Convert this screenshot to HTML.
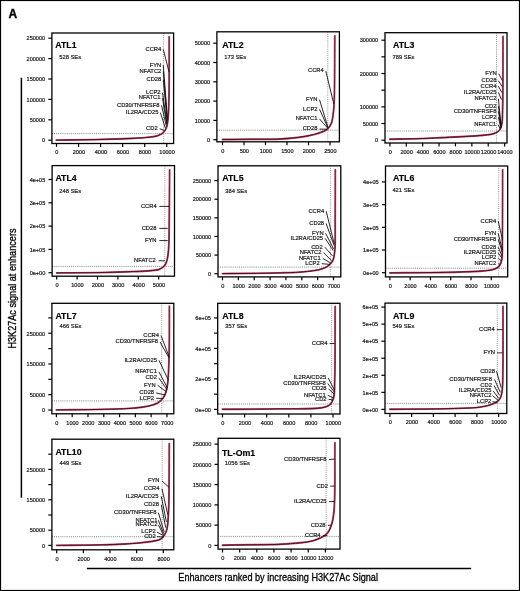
<!DOCTYPE html>
<html><head><meta charset="utf-8"><style>
html,body{margin:0;padding:0;background:#fff;}
body{width:520px;height:591px;overflow:hidden;}
svg{display:block;will-change:transform;}
text{font-family:"Liberation Sans",sans-serif;}
.tl{font-size:5.55px;fill:#181818;stroke:#181818;stroke-width:0.2;}
.gl{font-size:5.8px;fill:#181818;stroke:#181818;stroke-width:0.2;}
.se{font-size:5.8px;fill:#181818;stroke:#181818;stroke-width:0.18;}
.ti{font-size:8.8px;font-weight:bold;fill:#000;stroke:#000;stroke-width:0.15;}
.box{fill:none;stroke:#000;stroke-width:1.3;}
.tk{stroke:#000;stroke-width:1.2;}
.ld{stroke:#111;stroke-width:0.9;}
.vd{stroke:#85767c;stroke-width:0.8;stroke-dasharray:1 1.1;}
.vd2{stroke:#708a80;stroke-width:0.8;stroke-dasharray:1 1.1;}
.hd{stroke:#606868;stroke-width:0.8;stroke-dasharray:1 1.1;}
.c1{fill:none;stroke:#b84462;stroke-width:1.9;stroke-linejoin:round;stroke-linecap:round;}
.c2{fill:none;stroke-width:1.0;stroke-linejoin:round;stroke-linecap:round;}
</style></head><body>
<svg width="520" height="591" viewBox="0 0 520 591">
<rect x="0.5" y="0.5" width="519" height="590" fill="none" stroke="#000" stroke-width="1.2"/>
<text x="8.6" y="18.1" style="font-size:12.0px;font-weight:bold;stroke:#000;stroke-width:0.35">A</text>
<line x1="21.4" y1="77.7" x2="21.4" y2="497.7" stroke="#000" stroke-width="1.5"/>
<line x1="86.9" y1="568.5" x2="471.2" y2="568.5" stroke="#000" stroke-width="1.4"/>
<text transform="translate(15.6,348.6) rotate(-90) scale(0.845,1)" style="font-size:10.8px;stroke:#000;stroke-width:0.3" text-anchor="start">H3K27Ac signal at enhancers</text>
<text transform="translate(178.3,580.8) scale(0.88,1)" style="font-size:10.4px;stroke:#000;stroke-width:0.3">Enhancers ranked by increasing H3K27Ac Signal</text>
<line x1="163.4" y1="33.0" x2="163.4" y2="133.6" class="vd"/>
<line x1="163.4" y1="133.6" x2="163.4" y2="143.5" class="vd2"/>
<line x1="51.9" y1="133.6" x2="173.6" y2="133.6" class="hd"/>
<linearGradient id="gATL1" gradientUnits="userSpaceOnUse" x1="0" y1="36.8" x2="0" y2="133.6"><stop offset="0" stop-color="#802242"/><stop offset="0.7" stop-color="#641a38"/><stop offset="1" stop-color="#4a0c24"/></linearGradient>
<path d="M56.30,140.10 C69.20,139.93 82.43,139.88 95.00,139.60 C106.96,139.33 119.96,139.01 130.00,138.50 C137.60,138.11 144.87,137.73 150.00,137.10 C153.25,136.70 155.59,136.55 157.90,135.70 C159.92,134.96 161.76,133.97 163.20,132.60 C164.63,131.24 165.70,129.57 166.50,127.50 C167.51,124.89 167.70,121.80 168.10,117.90 C168.71,111.92 168.80,104.38 169.00,95.00 C169.32,80.05 169.13,56.20 169.20,36.80" class="c1"/>
<path d="M56.30,140.10 C69.20,139.93 82.43,139.88 95.00,139.60 C106.96,139.33 119.96,139.01 130.00,138.50 C137.60,138.11 144.87,137.73 150.00,137.10 C153.25,136.70 155.59,136.55 157.90,135.70 C159.92,134.96 161.76,133.97 163.20,132.60 C164.63,131.24 165.70,129.57 166.50,127.50 C167.51,124.89 167.70,121.80 168.10,117.90 C168.71,111.92 168.80,104.38 169.00,95.00 C169.32,80.05 169.13,56.20 169.20,36.80" class="c2" stroke="url(#gATL1)"/>
<rect x="51.9" y="33.0" width="121.70" height="110.50" class="box"/>
<line x1="48.30" y1="140.2" x2="51.9" y2="140.2" class="tk"/>
<text x="45.10" y="142.45" class="tl" text-anchor="end">0</text>
<line x1="48.30" y1="119.8" x2="51.9" y2="119.8" class="tk"/>
<text x="45.10" y="122.05" class="tl" text-anchor="end">50000</text>
<line x1="48.30" y1="99.4" x2="51.9" y2="99.4" class="tk"/>
<text x="45.10" y="101.65" class="tl" text-anchor="end">100000</text>
<line x1="48.30" y1="79.0" x2="51.9" y2="79.0" class="tk"/>
<text x="45.10" y="81.25" class="tl" text-anchor="end">150000</text>
<line x1="48.30" y1="58.6" x2="51.9" y2="58.6" class="tk"/>
<text x="45.10" y="60.85" class="tl" text-anchor="end">200000</text>
<line x1="48.30" y1="38.2" x2="51.9" y2="38.2" class="tk"/>
<text x="45.10" y="40.45" class="tl" text-anchor="end">250000</text>
<line x1="56.5" y1="143.5" x2="56.5" y2="146.90" class="tk"/>
<text x="56.80" y="154.20" class="tl" text-anchor="middle">0</text>
<line x1="78.55" y1="143.5" x2="78.55" y2="146.90" class="tk"/>
<text x="78.85" y="154.20" class="tl" text-anchor="middle">2000</text>
<line x1="100.6" y1="143.5" x2="100.6" y2="146.90" class="tk"/>
<text x="100.90" y="154.20" class="tl" text-anchor="middle">4000</text>
<line x1="122.65" y1="143.5" x2="122.65" y2="146.90" class="tk"/>
<text x="122.95" y="154.20" class="tl" text-anchor="middle">6000</text>
<line x1="144.7" y1="143.5" x2="144.7" y2="146.90" class="tk"/>
<text x="145.00" y="154.20" class="tl" text-anchor="middle">8000</text>
<line x1="166.75" y1="143.5" x2="166.75" y2="146.90" class="tk"/>
<text x="167.05" y="154.20" class="tl" text-anchor="middle">10000</text>
<text x="55.3" y="47.5" class="ti">ATL1</text>
<text x="59.2" y="58.7" class="se">528 SEs</text>
<text x="161.3" y="50.6" class="gl" text-anchor="end">CCR4</text>
<line x1="163.30" y1="49.30" x2="169" y2="72" class="ld"/>
<text x="161.3" y="66.5" class="gl" text-anchor="end">FYN</text>
<line x1="163.30" y1="65.20" x2="167.4" y2="118" class="ld"/>
<text x="161.3" y="72.75" class="gl" text-anchor="end">NFATC2</text>
<line x1="163.30" y1="71.45" x2="167.3" y2="119.5" class="ld"/>
<text x="161.3" y="81.25" class="gl" text-anchor="end">CD28</text>
<line x1="163.30" y1="79.95" x2="167.2" y2="121" class="ld"/>
<text x="160.5" y="94" class="gl" text-anchor="end">LCP2</text>
<line x1="162.50" y1="92.70" x2="166.9" y2="123" class="ld"/>
<text x="160.5" y="99.4" class="gl" text-anchor="end">NFATC1</text>
<line x1="162.50" y1="98.10" x2="166.6" y2="124.2" class="ld"/>
<text x="159.5" y="106.6" class="gl" text-anchor="end">CD30/TNFRSF8</text>
<line x1="161.50" y1="105.30" x2="166.2" y2="125.6" class="ld"/>
<text x="158.4" y="113.9" class="gl" text-anchor="end">IL2RA/CD25</text>
<line x1="160.40" y1="112.60" x2="165.3" y2="128" class="ld"/>
<text x="157.7" y="130" class="gl" text-anchor="end">CD2</text>
<line x1="159.70" y1="128.70" x2="164.5" y2="130.6" class="ld"/>
<line x1="327.8" y1="31.8" x2="327.8" y2="130.2" class="vd"/>
<line x1="327.8" y1="130.2" x2="327.8" y2="141.8" class="vd2"/>
<line x1="216.9" y1="130.2" x2="339.4" y2="130.2" class="hd"/>
<linearGradient id="gATL2" gradientUnits="userSpaceOnUse" x1="0" y1="36" x2="0" y2="130.2"><stop offset="0" stop-color="#802242"/><stop offset="0.7" stop-color="#641a38"/><stop offset="1" stop-color="#4a0c24"/></linearGradient>
<path d="M222.50,139.50 C231.67,139.43 240.63,139.38 250.00,139.30 C259.78,139.22 270.67,139.51 280.00,139.00 C288.19,138.55 296.18,137.81 303.00,136.70 C308.56,135.79 313.65,134.74 318.00,133.30 C321.53,132.13 325.02,131.09 327.30,129.20 C329.20,127.63 330.32,125.74 331.30,123.40 C332.50,120.54 332.82,116.57 333.30,113.00 C333.80,109.28 333.96,106.91 334.20,101.50 C334.76,88.61 334.60,57.83 334.80,36.00" class="c1"/>
<path d="M222.50,139.50 C231.67,139.43 240.63,139.38 250.00,139.30 C259.78,139.22 270.67,139.51 280.00,139.00 C288.19,138.55 296.18,137.81 303.00,136.70 C308.56,135.79 313.65,134.74 318.00,133.30 C321.53,132.13 325.02,131.09 327.30,129.20 C329.20,127.63 330.32,125.74 331.30,123.40 C332.50,120.54 332.82,116.57 333.30,113.00 C333.80,109.28 333.96,106.91 334.20,101.50 C334.76,88.61 334.60,57.83 334.80,36.00" class="c2" stroke="url(#gATL2)"/>
<rect x="216.9" y="31.8" width="122.50" height="110.00" class="box"/>
<line x1="213.30" y1="139.7" x2="216.9" y2="139.7" class="tk"/>
<text x="210.10" y="141.95" class="tl" text-anchor="end">0</text>
<line x1="213.30" y1="120.4" x2="216.9" y2="120.4" class="tk"/>
<text x="210.10" y="122.65" class="tl" text-anchor="end">10000</text>
<line x1="213.30" y1="101.1" x2="216.9" y2="101.1" class="tk"/>
<text x="210.10" y="103.35" class="tl" text-anchor="end">20000</text>
<line x1="213.30" y1="81.8" x2="216.9" y2="81.8" class="tk"/>
<text x="210.10" y="84.05" class="tl" text-anchor="end">30000</text>
<line x1="213.30" y1="62.5" x2="216.9" y2="62.5" class="tk"/>
<text x="210.10" y="64.75" class="tl" text-anchor="end">40000</text>
<line x1="213.30" y1="43.2" x2="216.9" y2="43.2" class="tk"/>
<text x="210.10" y="45.45" class="tl" text-anchor="end">50000</text>
<line x1="222.5" y1="141.8" x2="222.5" y2="145.20" class="tk"/>
<text x="222.80" y="152.50" class="tl" text-anchor="middle">0</text>
<line x1="244.0" y1="141.8" x2="244.0" y2="145.20" class="tk"/>
<text x="244.30" y="152.50" class="tl" text-anchor="middle">500</text>
<line x1="265.5" y1="141.8" x2="265.5" y2="145.20" class="tk"/>
<text x="265.80" y="152.50" class="tl" text-anchor="middle">1000</text>
<line x1="287.0" y1="141.8" x2="287.0" y2="145.20" class="tk"/>
<text x="287.30" y="152.50" class="tl" text-anchor="middle">1500</text>
<line x1="308.5" y1="141.8" x2="308.5" y2="145.20" class="tk"/>
<text x="308.80" y="152.50" class="tl" text-anchor="middle">2000</text>
<line x1="330.0" y1="141.8" x2="330.0" y2="145.20" class="tk"/>
<text x="330.30" y="152.50" class="tl" text-anchor="middle">2500</text>
<text x="222.3" y="47.5" class="ti">ATL2</text>
<text x="224.2" y="58.7" class="se">173 SEs</text>
<text x="323.8" y="72.4" class="gl" text-anchor="end">CCR4</text>
<line x1="325.80" y1="71.10" x2="333.8" y2="104" class="ld"/>
<text x="317.5" y="101" class="gl" text-anchor="end">FYN</text>
<line x1="319.50" y1="99.70" x2="328" y2="127.5" class="ld"/>
<text x="317.5" y="110.5" class="gl" text-anchor="end">LCP2</text>
<line x1="319.50" y1="109.20" x2="328" y2="128" class="ld"/>
<text x="317.5" y="120.2" class="gl" text-anchor="end">NFATC1</text>
<line x1="319.50" y1="118.90" x2="328" y2="128.5" class="ld"/>
<text x="317.5" y="130.4" class="gl" text-anchor="end">CD28</text>
<line x1="319.50" y1="129.10" x2="327.5" y2="129.2" class="ld"/>
<line x1="496.5" y1="32.7" x2="496.5" y2="131.0" class="vd"/>
<line x1="496.5" y1="131.0" x2="496.5" y2="143.0" class="vd2"/>
<line x1="385.0" y1="131.0" x2="507.0" y2="131.0" class="hd"/>
<linearGradient id="gATL3" gradientUnits="userSpaceOnUse" x1="0" y1="36.4" x2="0" y2="131.0"><stop offset="0" stop-color="#802242"/><stop offset="0.7" stop-color="#641a38"/><stop offset="1" stop-color="#4a0c24"/></linearGradient>
<path d="M389.90,139.20 C399.93,139.00 410.99,138.89 420.00,138.60 C427.35,138.36 432.19,138.09 440.00,137.70 C451.05,137.15 470.15,136.45 480.00,135.50 C485.81,134.94 490.34,134.78 493.80,133.60 C496.11,132.81 497.88,132.02 499.20,130.50 C500.60,128.88 501.21,126.63 501.80,124.00 C502.63,120.27 502.40,116.50 502.60,110.00 C503.07,95.10 502.87,60.93 503.00,36.40" class="c1"/>
<path d="M389.90,139.20 C399.93,139.00 410.99,138.89 420.00,138.60 C427.35,138.36 432.19,138.09 440.00,137.70 C451.05,137.15 470.15,136.45 480.00,135.50 C485.81,134.94 490.34,134.78 493.80,133.60 C496.11,132.81 497.88,132.02 499.20,130.50 C500.60,128.88 501.21,126.63 501.80,124.00 C502.63,120.27 502.40,116.50 502.60,110.00 C503.07,95.10 502.87,60.93 503.00,36.40" class="c2" stroke="url(#gATL3)"/>
<rect x="385.0" y="32.7" width="122.00" height="110.30" class="box"/>
<line x1="381.40" y1="140.2" x2="385.0" y2="140.2" class="tk"/>
<text x="378.20" y="142.45" class="tl" text-anchor="end">0</text>
<line x1="381.40" y1="123.53" x2="385.0" y2="123.53" class="tk"/>
<text x="378.20" y="125.78" class="tl" text-anchor="end">50000</text>
<line x1="381.40" y1="106.86" x2="385.0" y2="106.86" class="tk"/>
<text x="378.20" y="109.11" class="tl" text-anchor="end">100000</text>
<line x1="381.40" y1="90.19" x2="385.0" y2="90.19" class="tk"/>
<line x1="381.40" y1="73.52" x2="385.0" y2="73.52" class="tk"/>
<text x="378.20" y="75.77" class="tl" text-anchor="end">200000</text>
<line x1="381.40" y1="56.85" x2="385.0" y2="56.85" class="tk"/>
<line x1="381.40" y1="40.18" x2="385.0" y2="40.18" class="tk"/>
<text x="378.20" y="42.43" class="tl" text-anchor="end">300000</text>
<line x1="389.9" y1="143.0" x2="389.9" y2="146.40" class="tk"/>
<text x="390.20" y="153.70" class="tl" text-anchor="middle">0</text>
<line x1="406.29" y1="143.0" x2="406.29" y2="146.40" class="tk"/>
<text x="406.59" y="153.70" class="tl" text-anchor="middle">2000</text>
<line x1="422.68" y1="143.0" x2="422.68" y2="146.40" class="tk"/>
<text x="422.98" y="153.70" class="tl" text-anchor="middle">4000</text>
<line x1="439.07" y1="143.0" x2="439.07" y2="146.40" class="tk"/>
<text x="439.37" y="153.70" class="tl" text-anchor="middle">6000</text>
<line x1="455.46" y1="143.0" x2="455.46" y2="146.40" class="tk"/>
<text x="455.76" y="153.70" class="tl" text-anchor="middle">8000</text>
<line x1="471.85" y1="143.0" x2="471.85" y2="146.40" class="tk"/>
<text x="472.15" y="153.70" class="tl" text-anchor="middle">10000</text>
<line x1="488.24" y1="143.0" x2="488.24" y2="146.40" class="tk"/>
<text x="488.54" y="153.70" class="tl" text-anchor="middle">12000</text>
<line x1="504.63" y1="143.0" x2="504.63" y2="146.40" class="tk"/>
<text x="504.93" y="153.70" class="tl" text-anchor="middle">14000</text>
<text x="393.0" y="47.5" class="ti">ATL3</text>
<text x="392.5" y="58.6" class="se">789 SEs</text>
<text x="496.8" y="75.0" class="gl" text-anchor="end">FYN</text>
<line x1="498.80" y1="73.70" x2="502.3" y2="80.6" class="ld"/>
<text x="496.4" y="82.0" class="gl" text-anchor="end">CD28</text>
<line x1="498.40" y1="80.70" x2="502.3" y2="86.8" class="ld"/>
<text x="496.4" y="87.6" class="gl" text-anchor="end">CCR4</text>
<line x1="498.40" y1="86.30" x2="501.9" y2="92.5" class="ld"/>
<text x="496.4" y="93.7" class="gl" text-anchor="end">IL2RA/CD25</text>
<line x1="498.40" y1="92.40" x2="501.5" y2="99.5" class="ld"/>
<text x="496.4" y="100.1" class="gl" text-anchor="end">NFATC2</text>
<line x1="498.40" y1="98.80" x2="501.2" y2="126.5" class="ld"/>
<text x="496.4" y="107.5" class="gl" text-anchor="end">CD2</text>
<line x1="498.40" y1="106.20" x2="501.2" y2="127.2" class="ld"/>
<text x="496.4" y="112.6" class="gl" text-anchor="end">CD30/TNFRSF8</text>
<line x1="498.40" y1="111.30" x2="501.1" y2="127.8" class="ld"/>
<text x="496.4" y="118.5" class="gl" text-anchor="end">LCP2</text>
<line x1="498.40" y1="117.20" x2="500.9" y2="128.4" class="ld"/>
<text x="496.1" y="126.0" class="gl" text-anchor="end">NFATC1</text>
<line x1="498.10" y1="124.70" x2="500.4" y2="129.2" class="ld"/>
<line x1="164.8" y1="165.6" x2="164.8" y2="266.4" class="vd"/>
<line x1="164.8" y1="266.4" x2="164.8" y2="276.2" class="vd2"/>
<line x1="52.1" y1="266.4" x2="174.5" y2="266.4" class="hd"/>
<linearGradient id="gATL4" gradientUnits="userSpaceOnUse" x1="0" y1="170" x2="0" y2="266.4"><stop offset="0" stop-color="#802242"/><stop offset="0.7" stop-color="#641a38"/><stop offset="1" stop-color="#4a0c24"/></linearGradient>
<path d="M56.70,272.90 C70.47,272.80 85.45,272.82 98.00,272.60 C108.52,272.42 117.89,272.14 127.00,271.80 C135.11,271.49 144.13,271.24 150.00,270.70 C153.67,270.37 156.48,270.37 158.90,269.50 C160.80,268.82 162.42,267.70 163.60,266.60 C164.55,265.72 165.12,264.80 165.70,263.70 C166.35,262.47 166.82,260.96 167.20,259.50 C167.59,257.99 167.77,256.46 168.00,254.80 C168.25,252.95 168.45,250.87 168.60,248.90 C168.75,246.94 168.82,245.50 168.90,243.00 C169.05,238.63 169.11,232.63 169.20,225.00 C169.36,211.66 169.47,188.33 169.60,170.00" class="c1"/>
<path d="M56.70,272.90 C70.47,272.80 85.45,272.82 98.00,272.60 C108.52,272.42 117.89,272.14 127.00,271.80 C135.11,271.49 144.13,271.24 150.00,270.70 C153.67,270.37 156.48,270.37 158.90,269.50 C160.80,268.82 162.42,267.70 163.60,266.60 C164.55,265.72 165.12,264.80 165.70,263.70 C166.35,262.47 166.82,260.96 167.20,259.50 C167.59,257.99 167.77,256.46 168.00,254.80 C168.25,252.95 168.45,250.87 168.60,248.90 C168.75,246.94 168.82,245.50 168.90,243.00 C169.05,238.63 169.11,232.63 169.20,225.00 C169.36,211.66 169.47,188.33 169.60,170.00" class="c2" stroke="url(#gATL4)"/>
<rect x="52.1" y="165.6" width="122.40" height="110.60" class="box"/>
<line x1="48.50" y1="272.7" x2="52.1" y2="272.7" class="tk"/>
<text x="45.30" y="274.95" class="tl" text-anchor="end">0e+00</text>
<line x1="48.50" y1="249.4" x2="52.1" y2="249.4" class="tk"/>
<text x="45.30" y="251.65" class="tl" text-anchor="end">1e+05</text>
<line x1="48.50" y1="226.1" x2="52.1" y2="226.1" class="tk"/>
<text x="45.30" y="228.35" class="tl" text-anchor="end">2e+05</text>
<line x1="48.50" y1="202.8" x2="52.1" y2="202.8" class="tk"/>
<text x="45.30" y="205.05" class="tl" text-anchor="end">3e+05</text>
<line x1="48.50" y1="179.5" x2="52.1" y2="179.5" class="tk"/>
<text x="45.30" y="181.75" class="tl" text-anchor="end">4e+05</text>
<line x1="56.7" y1="276.2" x2="56.7" y2="279.60" class="tk"/>
<text x="57.00" y="286.90" class="tl" text-anchor="middle">0</text>
<line x1="77.1" y1="276.2" x2="77.1" y2="279.60" class="tk"/>
<text x="77.40" y="286.90" class="tl" text-anchor="middle">1000</text>
<line x1="97.5" y1="276.2" x2="97.5" y2="279.60" class="tk"/>
<text x="97.80" y="286.90" class="tl" text-anchor="middle">2000</text>
<line x1="117.9" y1="276.2" x2="117.9" y2="279.60" class="tk"/>
<text x="118.20" y="286.90" class="tl" text-anchor="middle">3000</text>
<line x1="138.3" y1="276.2" x2="138.3" y2="279.60" class="tk"/>
<text x="138.60" y="286.90" class="tl" text-anchor="middle">4000</text>
<line x1="158.7" y1="276.2" x2="158.7" y2="279.60" class="tk"/>
<text x="159.00" y="286.90" class="tl" text-anchor="middle">5000</text>
<text x="55.4" y="181.3" class="ti">ATL4</text>
<text x="59.2" y="192.6" class="se">248 SEs</text>
<text x="156.7" y="207.7" class="gl" text-anchor="end">CCR4</text>
<line x1="159.30" y1="206.40" x2="169.4" y2="206.4" class="ld"/>
<text x="156.5" y="229.7" class="gl" text-anchor="end">CD28</text>
<line x1="159.30" y1="228.40" x2="167.8" y2="228.4" class="ld"/>
<text x="156.5" y="241.9" class="gl" text-anchor="end">FYN</text>
<line x1="159.30" y1="240.60" x2="167.8" y2="240.6" class="ld"/>
<text x="155.8" y="262.1" class="gl" text-anchor="end">NFATC2</text>
<line x1="158.60" y1="260.80" x2="164.8" y2="260.8" class="ld"/>
<line x1="330.6" y1="165.8" x2="330.6" y2="267.1" class="vd"/>
<line x1="330.6" y1="267.1" x2="330.6" y2="276.9" class="vd2"/>
<line x1="218.0" y1="267.1" x2="340.8" y2="267.1" class="hd"/>
<linearGradient id="gATL5" gradientUnits="userSpaceOnUse" x1="0" y1="169.8" x2="0" y2="267.1"><stop offset="0" stop-color="#802242"/><stop offset="0.7" stop-color="#641a38"/><stop offset="1" stop-color="#4a0c24"/></linearGradient>
<path d="M222.50,273.60 C231.67,273.53 240.63,273.51 250.00,273.40 C259.78,273.28 271.01,273.15 280.00,272.90 C287.34,272.69 293.94,272.55 300.00,272.10 C305.06,271.73 309.90,271.26 313.90,270.60 C316.98,270.09 319.58,269.60 322.00,268.80 C324.08,268.11 325.89,267.51 327.60,266.30 C329.46,264.98 331.43,263.22 332.60,261.00 C333.96,258.44 334.22,255.62 334.70,251.50 C335.57,244.09 335.10,231.72 335.20,220.00 C335.33,205.21 335.27,186.53 335.30,169.80" class="c1"/>
<path d="M222.50,273.60 C231.67,273.53 240.63,273.51 250.00,273.40 C259.78,273.28 271.01,273.15 280.00,272.90 C287.34,272.69 293.94,272.55 300.00,272.10 C305.06,271.73 309.90,271.26 313.90,270.60 C316.98,270.09 319.58,269.60 322.00,268.80 C324.08,268.11 325.89,267.51 327.60,266.30 C329.46,264.98 331.43,263.22 332.60,261.00 C333.96,258.44 334.22,255.62 334.70,251.50 C335.57,244.09 335.10,231.72 335.20,220.00 C335.33,205.21 335.27,186.53 335.30,169.80" class="c2" stroke="url(#gATL5)"/>
<rect x="218.0" y="165.8" width="122.80" height="111.10" class="box"/>
<line x1="214.40" y1="273.7" x2="218.0" y2="273.7" class="tk"/>
<text x="211.20" y="275.95" class="tl" text-anchor="end">0</text>
<line x1="214.40" y1="255.08" x2="218.0" y2="255.08" class="tk"/>
<text x="211.20" y="257.33" class="tl" text-anchor="end">50000</text>
<line x1="214.40" y1="236.46" x2="218.0" y2="236.46" class="tk"/>
<text x="211.20" y="238.71" class="tl" text-anchor="end">100000</text>
<line x1="214.40" y1="217.84" x2="218.0" y2="217.84" class="tk"/>
<text x="211.20" y="220.09" class="tl" text-anchor="end">150000</text>
<line x1="214.40" y1="199.22" x2="218.0" y2="199.22" class="tk"/>
<text x="211.20" y="201.47" class="tl" text-anchor="end">200000</text>
<line x1="214.40" y1="180.6" x2="218.0" y2="180.6" class="tk"/>
<text x="211.20" y="182.85" class="tl" text-anchor="end">250000</text>
<line x1="222.5" y1="276.9" x2="222.5" y2="280.30" class="tk"/>
<text x="222.80" y="287.60" class="tl" text-anchor="middle">0</text>
<line x1="238.36" y1="276.9" x2="238.36" y2="280.30" class="tk"/>
<text x="238.66" y="287.60" class="tl" text-anchor="middle">1000</text>
<line x1="254.22" y1="276.9" x2="254.22" y2="280.30" class="tk"/>
<text x="254.52" y="287.60" class="tl" text-anchor="middle">2000</text>
<line x1="270.08" y1="276.9" x2="270.08" y2="280.30" class="tk"/>
<text x="270.38" y="287.60" class="tl" text-anchor="middle">3000</text>
<line x1="285.94" y1="276.9" x2="285.94" y2="280.30" class="tk"/>
<text x="286.24" y="287.60" class="tl" text-anchor="middle">4000</text>
<line x1="301.8" y1="276.9" x2="301.8" y2="280.30" class="tk"/>
<text x="302.10" y="287.60" class="tl" text-anchor="middle">5000</text>
<line x1="317.66" y1="276.9" x2="317.66" y2="280.30" class="tk"/>
<text x="317.96" y="287.60" class="tl" text-anchor="middle">6000</text>
<line x1="333.52" y1="276.9" x2="333.52" y2="280.30" class="tk"/>
<text x="333.82" y="287.60" class="tl" text-anchor="middle">7000</text>
<text x="222.3" y="181.3" class="ti">ATL5</text>
<text x="225.2" y="192.6" class="se">384 SEs</text>
<text x="324.2" y="212.5" class="gl" text-anchor="end">CCR4</text>
<line x1="326.20" y1="211.20" x2="334.3" y2="244" class="ld"/>
<text x="324.1" y="224.7" class="gl" text-anchor="end">CD28</text>
<line x1="326.10" y1="223.40" x2="334.1" y2="245.5" class="ld"/>
<text x="323.6" y="234.6" class="gl" text-anchor="end">FYN</text>
<line x1="325.60" y1="233.30" x2="333.6" y2="249" class="ld"/>
<text x="323.1" y="239.6" class="gl" text-anchor="end">IL2RA/CD25</text>
<line x1="325.10" y1="238.30" x2="333.2" y2="250.5" class="ld"/>
<text x="322.8" y="248.5" class="gl" text-anchor="end">CD2</text>
<line x1="324.80" y1="247.20" x2="332.6" y2="256" class="ld"/>
<text x="321.5" y="253.9" class="gl" text-anchor="end">NFATC2</text>
<line x1="323.50" y1="252.60" x2="331.4" y2="260.5" class="ld"/>
<text x="320.7" y="259.6" class="gl" text-anchor="end">NFATC1</text>
<line x1="322.70" y1="258.30" x2="330.6" y2="263" class="ld"/>
<text x="319.7" y="265" class="gl" text-anchor="end">LCP2</text>
<line x1="321.70" y1="263.70" x2="330" y2="264.4" class="ld"/>
<line x1="498.7" y1="166.0" x2="498.7" y2="268.2" class="vd"/>
<line x1="498.7" y1="268.2" x2="498.7" y2="276.9" class="vd2"/>
<line x1="385.5" y1="268.2" x2="507.7" y2="268.2" class="hd"/>
<linearGradient id="gATL6" gradientUnits="userSpaceOnUse" x1="0" y1="169.8" x2="0" y2="268.2"><stop offset="0" stop-color="#802242"/><stop offset="0.7" stop-color="#641a38"/><stop offset="1" stop-color="#4a0c24"/></linearGradient>
<path d="M389.90,272.90 C403.27,272.80 417.60,272.77 430.00,272.60 C440.72,272.45 450.72,272.30 460.00,272.00 C468.04,271.74 476.60,271.50 482.50,271.00 C486.35,270.67 489.37,270.46 492.00,269.80 C493.97,269.31 495.62,268.78 497.00,267.90 C498.22,267.12 499.22,266.28 500.00,265.00 C500.98,263.40 501.47,261.43 501.90,258.75 C502.64,254.21 502.28,248.24 502.40,240.00 C502.64,224.06 502.53,193.20 502.60,169.80" class="c1"/>
<path d="M389.90,272.90 C403.27,272.80 417.60,272.77 430.00,272.60 C440.72,272.45 450.72,272.30 460.00,272.00 C468.04,271.74 476.60,271.50 482.50,271.00 C486.35,270.67 489.37,270.46 492.00,269.80 C493.97,269.31 495.62,268.78 497.00,267.90 C498.22,267.12 499.22,266.28 500.00,265.00 C500.98,263.40 501.47,261.43 501.90,258.75 C502.64,254.21 502.28,248.24 502.40,240.00 C502.64,224.06 502.53,193.20 502.60,169.80" class="c2" stroke="url(#gATL6)"/>
<rect x="385.5" y="166.0" width="122.20" height="110.90" class="box"/>
<line x1="381.90" y1="272.7" x2="385.5" y2="272.7" class="tk"/>
<text x="378.70" y="274.95" class="tl" text-anchor="end">0e+00</text>
<line x1="381.90" y1="250.0" x2="385.5" y2="250.0" class="tk"/>
<text x="378.70" y="252.25" class="tl" text-anchor="end">1e+05</text>
<line x1="381.90" y1="227.3" x2="385.5" y2="227.3" class="tk"/>
<text x="378.70" y="229.55" class="tl" text-anchor="end">2e+05</text>
<line x1="381.90" y1="204.6" x2="385.5" y2="204.6" class="tk"/>
<text x="378.70" y="206.85" class="tl" text-anchor="end">3e+05</text>
<line x1="381.90" y1="181.9" x2="385.5" y2="181.9" class="tk"/>
<text x="378.70" y="184.15" class="tl" text-anchor="end">4e+05</text>
<line x1="389.9" y1="276.9" x2="389.9" y2="280.30" class="tk"/>
<text x="390.20" y="287.60" class="tl" text-anchor="middle">0</text>
<line x1="410.18" y1="276.9" x2="410.18" y2="280.30" class="tk"/>
<text x="410.48" y="287.60" class="tl" text-anchor="middle">2000</text>
<line x1="430.46" y1="276.9" x2="430.46" y2="280.30" class="tk"/>
<text x="430.76" y="287.60" class="tl" text-anchor="middle">4000</text>
<line x1="450.74" y1="276.9" x2="450.74" y2="280.30" class="tk"/>
<text x="451.04" y="287.60" class="tl" text-anchor="middle">6000</text>
<line x1="471.02" y1="276.9" x2="471.02" y2="280.30" class="tk"/>
<text x="471.32" y="287.60" class="tl" text-anchor="middle">8000</text>
<line x1="491.3" y1="276.9" x2="491.3" y2="280.30" class="tk"/>
<text x="491.60" y="287.60" class="tl" text-anchor="middle">10000</text>
<text x="393.0" y="181.3" class="ti">ATL6</text>
<text x="392.4" y="192.4" class="se">421 SEs</text>
<text x="496.25" y="222.5" class="gl" text-anchor="end">CCR4</text>
<line x1="498.25" y1="221.20" x2="502.5" y2="240" class="ld"/>
<text x="496.25" y="234.75" class="gl" text-anchor="end">FYN</text>
<line x1="498.25" y1="233.45" x2="502.3" y2="250" class="ld"/>
<text x="496.25" y="240.6" class="gl" text-anchor="end">CD30/TNFRSF8</text>
<line x1="498.25" y1="239.30" x2="502.2" y2="252" class="ld"/>
<text x="496.25" y="248.5" class="gl" text-anchor="end">CD28</text>
<line x1="498.25" y1="247.20" x2="502" y2="256" class="ld"/>
<text x="496.25" y="254.4" class="gl" text-anchor="end">IL2RA/CD25</text>
<line x1="498.25" y1="253.10" x2="501.8" y2="258" class="ld"/>
<text x="496.25" y="259.4" class="gl" text-anchor="end">LCP2</text>
<line x1="498.25" y1="258.10" x2="501.3" y2="261" class="ld"/>
<text x="496.25" y="265.25" class="gl" text-anchor="end">NFATC2</text>
<line x1="498.25" y1="263.95" x2="500" y2="264" class="ld"/>
<line x1="161.7" y1="303.3" x2="161.7" y2="400.9" class="vd"/>
<line x1="161.7" y1="400.9" x2="161.7" y2="413.8" class="vd2"/>
<line x1="51.9" y1="400.9" x2="173.8" y2="400.9" class="hd"/>
<linearGradient id="gATL7" gradientUnits="userSpaceOnUse" x1="0" y1="306.3" x2="0" y2="400.9"><stop offset="0" stop-color="#802242"/><stop offset="0.7" stop-color="#641a38"/><stop offset="1" stop-color="#4a0c24"/></linearGradient>
<path d="M56.40,409.90 C70.93,409.73 86.82,409.70 100.00,409.40 C110.93,409.16 122.01,408.95 130.00,408.40 C135.33,408.03 139.35,407.62 143.30,407.00 C146.52,406.50 149.44,405.98 152.00,405.20 C154.13,404.55 155.90,404.03 157.70,402.90 C159.69,401.65 161.81,400.01 163.30,397.80 C165.07,395.16 166.08,392.01 167.00,387.70 C168.51,380.64 168.58,369.94 169.00,358.90 C169.57,343.99 169.27,323.83 169.40,306.30" class="c1"/>
<path d="M56.40,409.90 C70.93,409.73 86.82,409.70 100.00,409.40 C110.93,409.16 122.01,408.95 130.00,408.40 C135.33,408.03 139.35,407.62 143.30,407.00 C146.52,406.50 149.44,405.98 152.00,405.20 C154.13,404.55 155.90,404.03 157.70,402.90 C159.69,401.65 161.81,400.01 163.30,397.80 C165.07,395.16 166.08,392.01 167.00,387.70 C168.51,380.64 168.58,369.94 169.00,358.90 C169.57,343.99 169.27,323.83 169.40,306.30" class="c2" stroke="url(#gATL7)"/>
<rect x="51.9" y="303.3" width="121.90" height="110.50" class="box"/>
<line x1="48.30" y1="410.0" x2="51.9" y2="410.0" class="tk"/>
<text x="45.10" y="412.25" class="tl" text-anchor="end">0</text>
<line x1="48.30" y1="394.65" x2="51.9" y2="394.65" class="tk"/>
<text x="45.10" y="396.90" class="tl" text-anchor="end">50000</text>
<line x1="48.30" y1="379.3" x2="51.9" y2="379.3" class="tk"/>
<line x1="48.30" y1="363.95" x2="51.9" y2="363.95" class="tk"/>
<text x="45.10" y="366.20" class="tl" text-anchor="end">150000</text>
<line x1="48.30" y1="348.6" x2="51.9" y2="348.6" class="tk"/>
<line x1="48.30" y1="333.25" x2="51.9" y2="333.25" class="tk"/>
<text x="45.10" y="335.50" class="tl" text-anchor="end">250000</text>
<line x1="48.30" y1="317.9" x2="51.9" y2="317.9" class="tk"/>
<line x1="56.4" y1="413.8" x2="56.4" y2="417.20" class="tk"/>
<text x="56.70" y="424.50" class="tl" text-anchor="middle">0</text>
<line x1="72.19" y1="413.8" x2="72.19" y2="417.20" class="tk"/>
<text x="72.49" y="424.50" class="tl" text-anchor="middle">1000</text>
<line x1="87.98" y1="413.8" x2="87.98" y2="417.20" class="tk"/>
<text x="88.28" y="424.50" class="tl" text-anchor="middle">2000</text>
<line x1="103.77" y1="413.8" x2="103.77" y2="417.20" class="tk"/>
<text x="104.07" y="424.50" class="tl" text-anchor="middle">3000</text>
<line x1="119.56" y1="413.8" x2="119.56" y2="417.20" class="tk"/>
<text x="119.86" y="424.50" class="tl" text-anchor="middle">4000</text>
<line x1="135.35" y1="413.8" x2="135.35" y2="417.20" class="tk"/>
<text x="135.65" y="424.50" class="tl" text-anchor="middle">5000</text>
<line x1="151.14" y1="413.8" x2="151.14" y2="417.20" class="tk"/>
<text x="151.44" y="424.50" class="tl" text-anchor="middle">6000</text>
<line x1="166.93" y1="413.8" x2="166.93" y2="417.20" class="tk"/>
<text x="167.23" y="424.50" class="tl" text-anchor="middle">7000</text>
<text x="55.4" y="319.4" class="ti">ATL7</text>
<text x="59.5" y="328.3" class="se">466 SEs</text>
<text x="159" y="336.9" class="gl" text-anchor="end">CCR4</text>
<line x1="161.00" y1="335.60" x2="169.2" y2="357" class="ld"/>
<text x="158" y="343.3" class="gl" text-anchor="end">CD30/TNFRSF8</text>
<line x1="160.00" y1="342.00" x2="169.1" y2="358" class="ld"/>
<text x="157" y="361.7" class="gl" text-anchor="end">IL2RA/CD25</text>
<line x1="159.00" y1="360.40" x2="168.3" y2="380" class="ld"/>
<text x="157" y="373.3" class="gl" text-anchor="end">NFATC1</text>
<line x1="159.00" y1="372.00" x2="167.5" y2="388" class="ld"/>
<text x="157" y="379.4" class="gl" text-anchor="end">CD2</text>
<line x1="159.00" y1="378.10" x2="167.2" y2="390" class="ld"/>
<text x="155.6" y="386.6" class="gl" text-anchor="end">FYN</text>
<line x1="157.60" y1="385.30" x2="166.6" y2="392" class="ld"/>
<text x="154.1" y="394.2" class="gl" text-anchor="end">CD28</text>
<line x1="156.10" y1="392.90" x2="165.3" y2="395" class="ld"/>
<text x="154.1" y="399.6" class="gl" text-anchor="end">LCP2</text>
<line x1="156.10" y1="398.30" x2="163" y2="398.5" class="ld"/>
<line x1="331.6" y1="303.3" x2="331.6" y2="404.0" class="vd"/>
<line x1="331.6" y1="404.0" x2="331.6" y2="414.0" class="vd2"/>
<line x1="217.7" y1="404.0" x2="340.0" y2="404.0" class="hd"/>
<linearGradient id="gATL8" gradientUnits="userSpaceOnUse" x1="0" y1="306.4" x2="0" y2="404.0"><stop offset="0" stop-color="#802242"/><stop offset="0.7" stop-color="#641a38"/><stop offset="1" stop-color="#4a0c24"/></linearGradient>
<path d="M222.50,409.30 C241.67,409.17 262.41,409.19 280.00,408.90 C294.93,408.65 313.00,409.28 321.40,407.80 C325.21,407.13 327.47,406.79 329.50,405.10 C331.53,403.42 332.69,400.82 333.60,397.70 C334.92,393.18 334.43,387.92 334.70,380.00 C335.26,363.86 335.03,330.93 335.20,306.40" class="c1"/>
<path d="M222.50,409.30 C241.67,409.17 262.41,409.19 280.00,408.90 C294.93,408.65 313.00,409.28 321.40,407.80 C325.21,407.13 327.47,406.79 329.50,405.10 C331.53,403.42 332.69,400.82 333.60,397.70 C334.92,393.18 334.43,387.92 334.70,380.00 C335.26,363.86 335.03,330.93 335.20,306.40" class="c2" stroke="url(#gATL8)"/>
<rect x="217.7" y="303.3" width="122.30" height="110.70" class="box"/>
<line x1="214.10" y1="409.4" x2="217.7" y2="409.4" class="tk"/>
<text x="210.90" y="411.65" class="tl" text-anchor="end">0e+00</text>
<line x1="214.10" y1="394.15" x2="217.7" y2="394.15" class="tk"/>
<line x1="214.10" y1="378.9" x2="217.7" y2="378.9" class="tk"/>
<text x="210.90" y="381.15" class="tl" text-anchor="end">2e+05</text>
<line x1="214.10" y1="363.65" x2="217.7" y2="363.65" class="tk"/>
<line x1="214.10" y1="348.4" x2="217.7" y2="348.4" class="tk"/>
<text x="210.90" y="350.65" class="tl" text-anchor="end">4e+05</text>
<line x1="214.10" y1="333.15" x2="217.7" y2="333.15" class="tk"/>
<line x1="214.10" y1="317.9" x2="217.7" y2="317.9" class="tk"/>
<text x="210.90" y="320.15" class="tl" text-anchor="end">6e+05</text>
<line x1="222.5" y1="414.0" x2="222.5" y2="417.40" class="tk"/>
<text x="222.80" y="424.70" class="tl" text-anchor="middle">0</text>
<line x1="244.6" y1="414.0" x2="244.6" y2="417.40" class="tk"/>
<text x="244.90" y="424.70" class="tl" text-anchor="middle">2000</text>
<line x1="266.7" y1="414.0" x2="266.7" y2="417.40" class="tk"/>
<text x="267.00" y="424.70" class="tl" text-anchor="middle">4000</text>
<line x1="288.8" y1="414.0" x2="288.8" y2="417.40" class="tk"/>
<text x="289.10" y="424.70" class="tl" text-anchor="middle">6000</text>
<line x1="310.9" y1="414.0" x2="310.9" y2="417.40" class="tk"/>
<text x="311.20" y="424.70" class="tl" text-anchor="middle">8000</text>
<line x1="333.0" y1="414.0" x2="333.0" y2="417.40" class="tk"/>
<text x="333.30" y="424.70" class="tl" text-anchor="middle">10000</text>
<text x="222.3" y="319.4" class="ti">ATL8</text>
<text x="225.2" y="328.3" class="se">357 SEs</text>
<text x="327.5" y="344.9" class="gl" text-anchor="end">CCR4</text>
<line x1="329.50" y1="343.60" x2="334.8" y2="343.5" class="ld"/>
<text x="326.2" y="379.4" class="gl" text-anchor="end">IL2RA/CD25</text>
<line x1="328.20" y1="378.10" x2="334.5" y2="390" class="ld"/>
<text x="325.75" y="384.8" class="gl" text-anchor="end">CD30/TNFRSF8</text>
<line x1="327.75" y1="383.50" x2="334.3" y2="392" class="ld"/>
<text x="326.6" y="390.2" class="gl" text-anchor="end">CD28</text>
<line x1="328.60" y1="388.90" x2="334.1" y2="394" class="ld"/>
<text x="325.75" y="396.6" class="gl" text-anchor="end">NFATC1</text>
<line x1="327.75" y1="395.30" x2="333.6" y2="398" class="ld"/>
<text x="326.6" y="400.6" class="gl" text-anchor="end">CD2</text>
<line x1="328.60" y1="399.30" x2="333" y2="400" class="ld"/>
<line x1="497.3" y1="303.1" x2="497.3" y2="403.4" class="vd"/>
<line x1="497.3" y1="403.4" x2="497.3" y2="413.5" class="vd2"/>
<line x1="385.0" y1="403.4" x2="506.8" y2="403.4" class="hd"/>
<linearGradient id="gATL9" gradientUnits="userSpaceOnUse" x1="0" y1="306.4" x2="0" y2="403.4"><stop offset="0" stop-color="#802242"/><stop offset="0.7" stop-color="#641a38"/><stop offset="1" stop-color="#4a0c24"/></linearGradient>
<path d="M389.90,409.30 C409.93,409.07 433.42,409.11 450.00,408.60 C461.72,408.24 472.09,408.28 480.00,407.10 C485.31,406.31 489.91,405.05 493.10,403.80 C495.09,403.02 496.42,402.44 497.70,401.30 C499.00,400.15 500.05,398.67 500.80,396.90 C501.71,394.77 501.95,392.36 502.30,389.20 C502.86,384.25 502.76,378.26 502.90,370.00 C503.15,354.97 502.97,327.60 503.00,306.40" class="c1"/>
<path d="M389.90,409.30 C409.93,409.07 433.42,409.11 450.00,408.60 C461.72,408.24 472.09,408.28 480.00,407.10 C485.31,406.31 489.91,405.05 493.10,403.80 C495.09,403.02 496.42,402.44 497.70,401.30 C499.00,400.15 500.05,398.67 500.80,396.90 C501.71,394.77 501.95,392.36 502.30,389.20 C502.86,384.25 502.76,378.26 502.90,370.00 C503.15,354.97 502.97,327.60 503.00,306.40" class="c2" stroke="url(#gATL9)"/>
<rect x="385.0" y="303.1" width="121.80" height="110.40" class="box"/>
<line x1="381.40" y1="409.4" x2="385.0" y2="409.4" class="tk"/>
<text x="378.20" y="411.65" class="tl" text-anchor="end">0e+00</text>
<line x1="381.40" y1="392.35" x2="385.0" y2="392.35" class="tk"/>
<text x="378.20" y="394.60" class="tl" text-anchor="end">1e+05</text>
<line x1="381.40" y1="375.3" x2="385.0" y2="375.3" class="tk"/>
<text x="378.20" y="377.55" class="tl" text-anchor="end">2e+05</text>
<line x1="381.40" y1="358.25" x2="385.0" y2="358.25" class="tk"/>
<text x="378.20" y="360.50" class="tl" text-anchor="end">3e+05</text>
<line x1="381.40" y1="341.2" x2="385.0" y2="341.2" class="tk"/>
<text x="378.20" y="343.45" class="tl" text-anchor="end">4e+05</text>
<line x1="381.40" y1="324.15" x2="385.0" y2="324.15" class="tk"/>
<text x="378.20" y="326.40" class="tl" text-anchor="end">5e+05</text>
<line x1="381.40" y1="307.1" x2="385.0" y2="307.1" class="tk"/>
<text x="378.20" y="309.35" class="tl" text-anchor="end">6e+05</text>
<line x1="389.9" y1="413.5" x2="389.9" y2="416.90" class="tk"/>
<text x="390.20" y="424.20" class="tl" text-anchor="middle">0</text>
<line x1="411.64" y1="413.5" x2="411.64" y2="416.90" class="tk"/>
<text x="411.94" y="424.20" class="tl" text-anchor="middle">2000</text>
<line x1="433.38" y1="413.5" x2="433.38" y2="416.90" class="tk"/>
<text x="433.68" y="424.20" class="tl" text-anchor="middle">4000</text>
<line x1="455.12" y1="413.5" x2="455.12" y2="416.90" class="tk"/>
<text x="455.42" y="424.20" class="tl" text-anchor="middle">6000</text>
<line x1="476.86" y1="413.5" x2="476.86" y2="416.90" class="tk"/>
<text x="477.16" y="424.20" class="tl" text-anchor="middle">8000</text>
<line x1="498.6" y1="413.5" x2="498.6" y2="416.90" class="tk"/>
<text x="498.90" y="424.20" class="tl" text-anchor="middle">10000</text>
<text x="393.0" y="319.4" class="ti">ATL9</text>
<text x="392.4" y="328.3" class="se">549 SEs</text>
<text x="494.8" y="331" class="gl" text-anchor="end">CCR4</text>
<line x1="496.80" y1="329.70" x2="502.5" y2="329.6" class="ld"/>
<text x="495" y="354.2" class="gl" text-anchor="end">FYN</text>
<line x1="497.00" y1="352.90" x2="502.4" y2="352.8" class="ld"/>
<text x="495" y="372.5" class="gl" text-anchor="end">CD28</text>
<line x1="496.50" y1="371.20" x2="501.2" y2="387.7" class="ld"/>
<text x="491.9" y="380.9" class="gl" text-anchor="end">CD30/TNFRSF8</text>
<line x1="494.50" y1="379.60" x2="500.4" y2="392.3" class="ld"/>
<text x="491.9" y="387" class="gl" text-anchor="end">CD2</text>
<line x1="494.10" y1="385.70" x2="499.6" y2="395.4" class="ld"/>
<text x="491.4" y="392.3" class="gl" text-anchor="end">IL2RA/CD25</text>
<line x1="493.20" y1="391.00" x2="498.8" y2="398.5" class="ld"/>
<text x="491.5" y="396.9" class="gl" text-anchor="end">NFATC2</text>
<line x1="492.50" y1="395.60" x2="498.1" y2="400.4" class="ld"/>
<text x="491.3" y="403" class="gl" text-anchor="end">LCP2</text>
<line x1="492.30" y1="401.70" x2="497.3" y2="402.3" class="ld"/>
<line x1="162.2" y1="439.2" x2="162.2" y2="536.7" class="vd"/>
<line x1="162.2" y1="536.7" x2="162.2" y2="549.8" class="vd2"/>
<line x1="51.9" y1="536.7" x2="173.8" y2="536.7" class="hd"/>
<linearGradient id="gATL10" gradientUnits="userSpaceOnUse" x1="0" y1="443.6" x2="0" y2="536.7"><stop offset="0" stop-color="#802242"/><stop offset="0.7" stop-color="#641a38"/><stop offset="1" stop-color="#4a0c24"/></linearGradient>
<path d="M56.70,545.40 C71.13,545.23 87.54,545.20 100.00,544.90 C109.47,544.67 117.73,544.40 125.00,544.00 C130.64,543.69 135.01,543.43 140.00,542.90 C145.01,542.37 151.10,541.71 155.00,540.80 C157.58,540.19 159.50,540.08 161.30,538.70 C163.42,537.08 165.20,534.32 166.40,531.00 C168.13,526.22 168.04,519.17 168.50,512.00 C169.10,502.73 168.97,491.01 169.10,480.00 C169.24,468.26 169.23,455.73 169.30,443.60" class="c1"/>
<path d="M56.70,545.40 C71.13,545.23 87.54,545.20 100.00,544.90 C109.47,544.67 117.73,544.40 125.00,544.00 C130.64,543.69 135.01,543.43 140.00,542.90 C145.01,542.37 151.10,541.71 155.00,540.80 C157.58,540.19 159.50,540.08 161.30,538.70 C163.42,537.08 165.20,534.32 166.40,531.00 C168.13,526.22 168.04,519.17 168.50,512.00 C169.10,502.73 168.97,491.01 169.10,480.00 C169.24,468.26 169.23,455.73 169.30,443.60" class="c2" stroke="url(#gATL10)"/>
<rect x="51.9" y="439.2" width="121.90" height="110.60" class="box"/>
<line x1="48.30" y1="545.4" x2="51.9" y2="545.4" class="tk"/>
<text x="45.10" y="547.65" class="tl" text-anchor="end">0</text>
<line x1="48.30" y1="530.2" x2="51.9" y2="530.2" class="tk"/>
<text x="45.10" y="532.45" class="tl" text-anchor="end">50000</text>
<line x1="48.30" y1="515.0" x2="51.9" y2="515.0" class="tk"/>
<line x1="48.30" y1="499.8" x2="51.9" y2="499.8" class="tk"/>
<text x="45.10" y="502.05" class="tl" text-anchor="end">150000</text>
<line x1="48.30" y1="484.6" x2="51.9" y2="484.6" class="tk"/>
<line x1="48.30" y1="469.4" x2="51.9" y2="469.4" class="tk"/>
<text x="45.10" y="471.65" class="tl" text-anchor="end">250000</text>
<line x1="48.30" y1="454.2" x2="51.9" y2="454.2" class="tk"/>
<line x1="56.7" y1="549.8" x2="56.7" y2="553.20" class="tk"/>
<text x="57.00" y="560.50" class="tl" text-anchor="middle">0</text>
<line x1="83.35" y1="549.8" x2="83.35" y2="553.20" class="tk"/>
<text x="83.65" y="560.50" class="tl" text-anchor="middle">2000</text>
<line x1="110.0" y1="549.8" x2="110.0" y2="553.20" class="tk"/>
<text x="110.30" y="560.50" class="tl" text-anchor="middle">4000</text>
<line x1="136.65" y1="549.8" x2="136.65" y2="553.20" class="tk"/>
<text x="136.95" y="560.50" class="tl" text-anchor="middle">6000</text>
<line x1="163.3" y1="549.8" x2="163.3" y2="553.20" class="tk"/>
<text x="163.60" y="560.50" class="tl" text-anchor="middle">8000</text>
<text x="55.4" y="455.4" class="ti">ATL10</text>
<text x="59.6" y="464.7" class="se">449 SEs</text>
<text x="159.5" y="482.3" class="gl" text-anchor="end">FYN</text>
<line x1="162.00" y1="481.00" x2="169" y2="487.3" class="ld"/>
<text x="159.5" y="490.2" class="gl" text-anchor="end">CCR4</text>
<line x1="162.00" y1="488.90" x2="167.8" y2="514.7" class="ld"/>
<text x="158.4" y="497.7" class="gl" text-anchor="end">IL2RA/CD25</text>
<line x1="161.30" y1="496.40" x2="166.4" y2="522" class="ld"/>
<text x="158.9" y="506.1" class="gl" text-anchor="end">CD28</text>
<line x1="161.30" y1="504.80" x2="165.7" y2="527.7" class="ld"/>
<text x="156.6" y="514.0" class="gl" text-anchor="end">CD30/TNFRSF8</text>
<line x1="158.40" y1="512.70" x2="164.2" y2="532" class="ld"/>
<text x="157.4" y="521.6" class="gl" text-anchor="end">NFATC1</text>
<line x1="158.40" y1="520.30" x2="163.6" y2="533.5" class="ld"/>
<text x="157.4" y="526.2" class="gl" text-anchor="end">NFATC2</text>
<line x1="158.40" y1="524.90" x2="163.5" y2="535" class="ld"/>
<text x="155.8" y="533.4" class="gl" text-anchor="end">LCP2</text>
<line x1="157.00" y1="532.10" x2="163.5" y2="535.7" class="ld"/>
<text x="155.8" y="537.9" class="gl" text-anchor="end">CD2</text>
<line x1="157.00" y1="536.60" x2="163.5" y2="537.1" class="ld"/>
<line x1="326.2" y1="438.3" x2="326.2" y2="536.4" class="vd"/>
<line x1="326.2" y1="536.4" x2="326.2" y2="549.1" class="vd2"/>
<line x1="218.1" y1="536.4" x2="340.0" y2="536.4" class="hd"/>
<linearGradient id="gTLOm1" gradientUnits="userSpaceOnUse" x1="0" y1="442.8" x2="0" y2="536.4"><stop offset="0" stop-color="#802242"/><stop offset="0.7" stop-color="#641a38"/><stop offset="1" stop-color="#4a0c24"/></linearGradient>
<path d="M222.50,545.20 C231.67,545.07 240.63,544.95 250.00,544.80 C259.78,544.65 271.02,544.71 280.00,544.30 C287.35,543.96 294.00,543.51 300.00,542.80 C304.95,542.21 309.14,542.02 313.50,540.60 C318.02,539.13 323.60,536.89 326.60,534.00 C329.02,531.68 330.02,528.98 331.20,525.70 C332.69,521.55 333.32,517.61 334.00,510.80 C335.44,496.38 334.60,465.47 334.90,442.80" class="c1"/>
<path d="M222.50,545.20 C231.67,545.07 240.63,544.95 250.00,544.80 C259.78,544.65 271.02,544.71 280.00,544.30 C287.35,543.96 294.00,543.51 300.00,542.80 C304.95,542.21 309.14,542.02 313.50,540.60 C318.02,539.13 323.60,536.89 326.60,534.00 C329.02,531.68 330.02,528.98 331.20,525.70 C332.69,521.55 333.32,517.61 334.00,510.80 C335.44,496.38 334.60,465.47 334.90,442.80" class="c2" stroke="url(#gTLOm1)"/>
<rect x="218.1" y="438.3" width="121.90" height="110.80" class="box"/>
<line x1="214.50" y1="545.4" x2="218.1" y2="545.4" class="tk"/>
<text x="211.30" y="547.65" class="tl" text-anchor="end">0</text>
<line x1="214.50" y1="525.14" x2="218.1" y2="525.14" class="tk"/>
<text x="211.30" y="527.39" class="tl" text-anchor="end">50000</text>
<line x1="214.50" y1="504.88" x2="218.1" y2="504.88" class="tk"/>
<text x="211.30" y="507.13" class="tl" text-anchor="end">100000</text>
<line x1="214.50" y1="484.62" x2="218.1" y2="484.62" class="tk"/>
<text x="211.30" y="486.87" class="tl" text-anchor="end">150000</text>
<line x1="214.50" y1="464.36" x2="218.1" y2="464.36" class="tk"/>
<text x="211.30" y="466.61" class="tl" text-anchor="end">200000</text>
<line x1="214.50" y1="444.1" x2="218.1" y2="444.1" class="tk"/>
<text x="211.30" y="446.35" class="tl" text-anchor="end">250000</text>
<line x1="222.5" y1="549.1" x2="222.5" y2="552.50" class="tk"/>
<text x="222.80" y="559.80" class="tl" text-anchor="middle">0</text>
<line x1="239.65" y1="549.1" x2="239.65" y2="552.50" class="tk"/>
<text x="239.95" y="559.80" class="tl" text-anchor="middle">2000</text>
<line x1="256.8" y1="549.1" x2="256.8" y2="552.50" class="tk"/>
<text x="257.10" y="559.80" class="tl" text-anchor="middle">4000</text>
<line x1="273.95" y1="549.1" x2="273.95" y2="552.50" class="tk"/>
<text x="274.25" y="559.80" class="tl" text-anchor="middle">6000</text>
<line x1="291.1" y1="549.1" x2="291.1" y2="552.50" class="tk"/>
<text x="291.40" y="559.80" class="tl" text-anchor="middle">8000</text>
<line x1="308.25" y1="549.1" x2="308.25" y2="552.50" class="tk"/>
<text x="308.55" y="559.80" class="tl" text-anchor="middle">10000</text>
<line x1="325.4" y1="549.1" x2="325.4" y2="552.50" class="tk"/>
<text x="325.70" y="559.80" class="tl" text-anchor="middle">12000</text>
<text x="222.0" y="455.6" class="ti">TL-Om1</text>
<text x="224.8" y="465.1" class="se">1056 SEs</text>
<text x="326.6" y="460.7" class="gl" text-anchor="end">CD30/TNFRSF8</text>
<line x1="329.10" y1="459.40" x2="334.7" y2="459.2" class="ld"/>
<text x="328" y="487.5" class="gl" text-anchor="end">CD2</text>
<line x1="330.30" y1="486.20" x2="334.5" y2="486.1" class="ld"/>
<text x="326.6" y="502.9" class="gl" text-anchor="end">IL2RA/CD25</text>
<line x1="329.10" y1="501.60" x2="334.3" y2="501.5" class="ld"/>
<text x="325.6" y="526.6" class="gl" text-anchor="end">CD28</text>
<line x1="327.90" y1="525.30" x2="331.2" y2="525.2" class="ld"/>
<text x="320.6" y="537.0" class="gl" text-anchor="end">CCR4</text>
<line x1="322.90" y1="535.70" x2="327.3" y2="535.6" class="ld"/>
</svg>
</body></html>
